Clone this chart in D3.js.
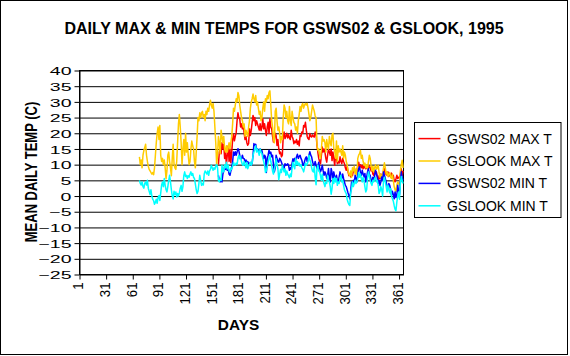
<!DOCTYPE html>
<html><head><meta charset="utf-8">
<script src="https://cdn.jsdelivr.net/npm/d3@7"></script>
<style>html,body{margin:0;padding:0;background:#fff}svg{display:block}text{font-family:"Liberation Sans",Arial,sans-serif;fill:#000}</style>
</head><body><svg id="c" width="570" height="356"></svg>
<script>
const chartTitle = "DAILY MAX & MIN TEMPS FOR GSWS02 & GSLOOK, 1995";
const xTitle = "DAYS";
const yTitle = "MEAN DAILY TEMP (C)";
const dayCount = 365;
const xTickLabels = [1, 31, 61, 91, 121, 151, 181, 211, 241, 271, 301, 331, 361];
const yTicks = [40, 35, 30, 25, 20, 15, 10, 5, 0, -5, -10, -15, -20, -25];
const seriesNames = ["GSWS02 MAX T", "GSLOOK MAX T", "GSWS02 MIN T", "GSLOOK MIN T"];
const seriesColors = ["#FF0000", "#FFCC00", "#0000FF", "#00FFFF"];
const gslookStartDay = 68;
const gsws02StartDay = 157;

const gslookMax = [
12.5,10,11.5,9,13,14.5,15.5,16.5,13,11,
9.5,8.5,8,7.5,7,7.5,6.8,9,13,17,
20,22,18,22.5,13,11,12,10,11.5,9,
5.5,8,13,14,11,9,6.5,12,16.5,10,
9,8.5,11,17,23,26,22,17,10,15,
18,13,20,14,17,13,10,11,15,17.5,
16,15,11,9,14,19,25,24,26.5,25,
26.5,27,25,26,24,27,26,28,27,29,
30.5,29,28,29.5,27,22,17,10,13,19,
17,13.5,21,19,17,19,15,14,16,14,
15.5,17,15,17,19,23,28,27,29,31,
30,33,32,29,27,25,24,22,23,19,
21,20,19,22,24,28,30,31,32.5,31,
30,32,29,30,28,26,27,24,25,28,
30,27,31,30,32,31,33,33.5,29,24,
22,18,17,27,28,24,21,22,20,17,
19,18,25,29,28,25,27,24,23,28.5,
24,22.5,27,25,23.5,23,21,22,20,24,
26,28.5,27,29,29.5,28,29,29.5,29,29.5,
28,26,24,25,27,29,28,27,25.5,25,
16.5,14.5,15,13,12,15,19,17.5,18,17,
14,18,16,15,19,17,16,19.5,20,15,
14.5,12,17.5,11,16,14,15,14,13,16,
12,14,13,11,10,8,7,6.5,8,6,
9,8,9.5,7,8.5,6.7,12,13,13.5,14.5,
12,13,11,9.8,10.5,9,10,8.7,11,13,
12,9.5,8,9.5,7.7,9,10,8.5,9,9.8,
7.5,6,7,5.6,6.5,9,10.6,9,7,7.7,
6.2,7,7.5,6,5.6,7,5,3,2,1.5,
3.5,4.5,4,3.4,8,10,11.4,9];

const gslookMin = [
5,4,3.5,4.5,3,2.5,4,4.5,3.5,5,
2.5,1.5,0.5,2,0,-1,-1.5,-2.6,-2,-1,
-2.3,-0.5,0.2,-1.4,1,3.5,4.5,3,5.6,3.4,
2,1.3,3,5,6.6,4.5,2,0,-0.9,1.5,
0.5,1.3,-0.3,0.8,0,1,2.5,3.4,1.5,3,
6.5,7.7,6.2,6.6,5.6,6.5,6,7,7.7,6.6,
7.2,6,5.6,3.9,2,0.8,1.5,4,6.6,5,
3.4,4,3.5,7,8,7.5,7,8,6.6,8,
8.5,9.8,9,8.2,9,8.5,9.5,10,9,5,
4.5,5.6,5,9.8,8,7.7,10,9,10.8,8.7,
9.8,8,7.7,9,8.5,9.5,10.8,10,9.8,10.5,
10,12,13,11.9,12.5,11,10,9.8,11,10,
9,10.8,8.7,9.5,10,10.8,9.8,10.5,13,14,
15,16,14,15,14,13,15,14,13.5,12,
11,9.8,7.5,8,9.5,10.8,12,13,11,9.7,
8,7,8.5,9.7,11.9,10,8.7,5.2,7,8.5,
7.5,9.8,8.5,7.7,8.7,6.6,8,7,6.5,5.8,
7,6.2,9,10.8,9.5,8.7,11.9,10,11,9.8,
10.5,9.5,10,9,8.5,7.7,9,10.5,9.8,10.2,
11,13,11.5,10.8,9,8,7.7,9.5,6,3.6,
8.7,9.8,8,7.7,6.5,5,7,5,4,3,
4.5,4,6.6,5,4.5,3,0.6,2.4,5.6,4,
6,4.5,5.6,3.4,4.5,4,5.6,6.6,4.5,5,
3.4,2,1.3,0.8,-1,-2,-2.7,-3,1,2.4,
4.5,3,4,5,4,4.5,5.5,7.5,6,7,
5.6,4.5,6,5,3,1.3,2,5.6,7.7,6.5,
5,4,3.4,5,4.5,5.6,6,4.5,5,3.5,
0.8,1.5,3,2,0,5,6,4.5,3,1.3,
3.4,2,1,2.4,0,-0.9,-1.6,-3,-4.2,-4.7,
-1.9,0,1.3,-1,4,6.2,5,4];

const gsws02Max = [
10,14,15,13.5,17,15,16.5,12,14,10,
13,16,11,15,10.6,14,18,19.8,17.6,19,
20.2,24,26.5,25,24.6,22,23,21.4,22.5,20,
18,19,17,16.2,16.7,21.4,19.3,21,23.5,25.7,
24,25,22.5,24,23,22,21,23,20.9,22,
24.6,21.4,23,21,19.3,22,23.5,20,24.6,22,
21.4,19,17.2,18,20,19.3,16.1,18,15,13.5,
14,12.5,13,19,20.4,18.3,19,20,18.5,19.5,
18.5,18,21,19,18.3,16.7,17.5,17,18,16.5,
17.5,16,19.3,19,20.4,20,22.5,22,23.5,21,
19,18.3,18,19.9,19,18.8,19.5,19,18.8,20.4,
20,16.1,14,12,11,10.3,13,15.6,14,15,
14,12,10.8,13,15,14,13,15,11.3,14,
12,9.8,13,11.9,10.3,11,10.5,12.5,11,10.3,
12,11,10.3,9,8.2,9.5,7.7,6.5,7,6.1,
7,6.5,8,8.7,7.7,8.5,8,9.5,10.8,9.2,
10,9,9.8,8.7,9.5,9,8.7,9.5,8.7,9.8,
9,9.2,8,8.7,7,6.6,8,7.5,7.7,6,
5,6.5,5.5,7,6,5.3,8,8.7,7,7.5,
6.6,7.7,6.2,7,6.5,7.3,6,6.6,5,4.5,
5.5,6.6,5.6,6,5.8,7,8.7,6.6,8];

const gsws02Min = [
6.6,5,4.5,5.5,4.5,7,8,9.5,8.5,9.8,
8.2,8.7,7,6.6,8,9,11,14,13,14.1,
13,14,15.1,14.5,13,12,11.9,13,12,11.9,
10.8,11.5,10.8,11,10.3,10.5,10.3,9.8,10.5,13,
16.7,16.1,16.5,15,15.1,14.1,14.5,15,14.1,14.5,
13,11.9,13,12.5,7.5,11.9,13,14.6,13.5,14,
12.5,13,10,7.7,9,13,12,11,10.8,12,
11.5,10.8,10,9,8.8,10.3,9.8,10,10.3,9.8,
8.2,9,8.5,10.5,11.9,11,12,11.5,12.5,13.3,
12,12.6,13,12,11.4,10,9.8,11,12,12.5,
11,12,13,14.1,13,12.5,11,10,9.8,11,
9.8,8.8,9.5,10.8,9,7.7,8.5,9.8,8,6.6,
7.7,7,5.6,6.5,8.8,6,4.5,8.8,7.5,5,
7.7,6,5.6,6.6,5,4.5,6,7.7,6.5,5.6,
7,5.6,4.5,3.4,3,2,1,0.2,-0.9,1.5,
4.5,3.4,5,4,6.6,5.6,4.5,7,8.8,9.3,
7.5,6.6,8.2,7,6.1,7.2,4.5,6,7.7,8.8,
7,6.6,5,4.5,6,5,6.5,8.2,7,6.1,
4,5,3.4,4.5,6.1,5,7.7,6.6,5.6,4.5,
3,2.4,4,3.4,2,0.2,1.5,0.5,-0.9,1.3,
-0.5,0.2,3.4,1.5,0.5,4.5,7.7,6,5];

const seriesData = [
  {start: gsws02StartDay, values: gsws02Max},
  {start: gslookStartDay, values: gslookMax},
  {start: gsws02StartDay, values: gsws02Min},
  {start: gslookStartDay, values: gslookMin}
];

const svg = d3.select("#c");
svg.append("rect").attr("x", 0.5).attr("y", 0.5).attr("width", 567).attr("height", 354)
  .attr("fill", "#fff").attr("stroke", "#000");

const L = 79.5, R = 403.5, T = 70.5, B = 274.5;
const x = d3.scaleLinear().domain([0.5, dayCount + 0.5]).range([L, R]);
const y = d3.scaleLinear().domain([-25, 40]).range([B, T]);

// gridlines
svg.append("g").attr("transform", `translate(${L},0)`)
  .call(d3.axisLeft(y).tickValues(yTicks.filter(v => v > -25)).tickSize(-(R - L)).tickFormat(""))
  .call(g => g.select(".domain").remove())
  .selectAll("line").attr("stroke", "#000").attr("stroke-width", 1);

// plot border
svg.append("rect").attr("x", L).attr("y", T).attr("width", R - L).attr("height", B - T)
  .attr("fill", "none").attr("stroke", "#000");

// y axis
const ya = svg.append("g").attr("transform", `translate(${L},0)`)
  .call(d3.axisLeft(y).tickValues(yTicks).tickSize(5).tickSizeOuter(0).tickFormat(d3.format("d")));
ya.select(".domain").attr("stroke", "#000");
ya.selectAll(".tick line").attr("stroke", "#000");
ya.selectAll(".tick text").attr("x", 0).attr("dy", "0.36em")
  .attr("transform", "translate(-8,0) scale(1.7,1)")
  .attr("font-size", 11.5).attr("font-family", '"Liberation Sans",Arial,sans-serif').attr("fill", "#000");

// x axis
const xa = svg.append("g").attr("transform", `translate(0,${B})`)
  .call(d3.axisBottom(x).tickValues(xTickLabels.map(d => d - 0.5)).tickSize(5).tickSizeOuter(0)
    .tickFormat(d => String(d + 0.5)));
xa.select(".domain").attr("stroke", "#000");
xa.selectAll(".tick line").attr("stroke", "#000");
xa.selectAll(".tick text").attr("x", 0).attr("y", 0).attr("dy", "0.36em")
  .attr("text-anchor", "end")
  .attr("transform", "translate(-2,8) rotate(-90) scale(1.1,1.25)")
  .attr("font-size", 12).attr("font-family", '"Liberation Sans",Arial,sans-serif').attr("fill", "#000");

// series lines
const line = d3.line().x(d => x(d.day)).y(d => y(d.v));
seriesData.forEach((s, i) => {
  const pts = s.values.map((v, k) => ({day: s.start + k, v}));
  svg.append("path").datum(pts).attr("d", line)
    .attr("fill", "none").attr("stroke", seriesColors[i]).attr("stroke-width", 1.5)
    .attr("stroke-linejoin", "round");
});

// titles
svg.append("text").attr("x", 284).attr("y", 34).attr("text-anchor", "middle")
  .attr("font-size", 16).attr("font-weight", "bold").text(chartTitle);
svg.append("text").attr("x", 0).attr("y", 0).attr("text-anchor", "middle")
  .attr("transform", "translate(238.5,330) scale(1.1,1)")
  .attr("font-size", 14).attr("font-weight", "bold").text(xTitle);
svg.append("text").attr("x", 0).attr("y", 0).attr("dy", "0.36em").attr("text-anchor", "middle")
  .attr("transform", "translate(31,172) rotate(-90) scale(1,1.3)")
  .attr("font-size", 13).attr("font-weight", "bold").text(yTitle);

// legend
const lg = svg.append("g");
lg.append("rect").attr("x", 414.5).attr("y", 122.5).attr("width", 146.5).attr("height", 95)
  .attr("fill", "#fff").attr("stroke", "#000");
seriesNames.forEach((n, i) => {
  const ry = 138.6 + i * 22.4;
  lg.append("line").attr("x1", 418.5).attr("x2", 440.5).attr("y1", ry).attr("y2", ry)
    .attr("stroke", seriesColors[i]).attr("stroke-width", 1.5);
  lg.append("text").attr("x", 447).attr("y", ry + 5).attr("font-size", 14).text(n);
});
</script></body></html>
